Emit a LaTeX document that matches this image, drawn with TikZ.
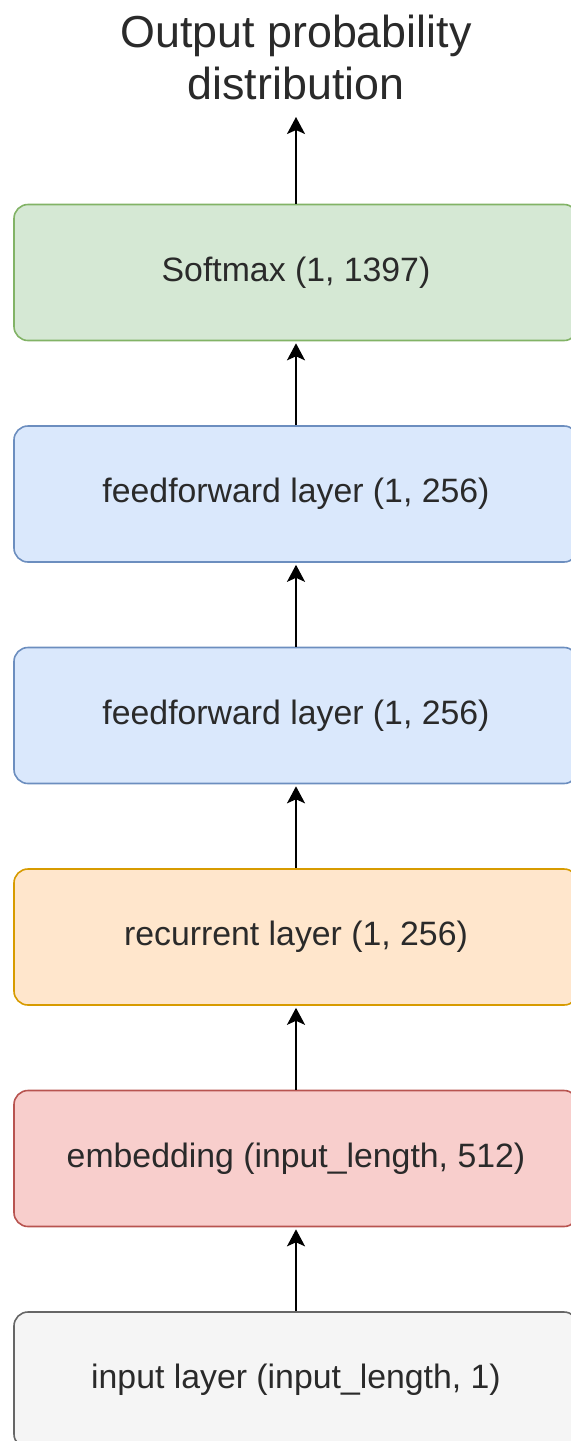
\documentclass[tikz,border=0pt]{standalone}
\usepackage{fontspec}
\setmainfont{Liberation Sans}
\usetikzlibrary{arrows.meta}

\definecolor{smfill}{HTML}{D5E8D4}\definecolor{smdraw}{HTML}{82B366}
\definecolor{fffill}{HTML}{DAE8FC}\definecolor{ffdraw}{HTML}{6C8EBF}
\definecolor{rcfill}{HTML}{FFE6CC}\definecolor{rcdraw}{HTML}{D79B00}
\definecolor{emfill}{HTML}{F8CECC}\definecolor{emdraw}{HTML}{B85450}
\definecolor{infill}{HTML}{F5F5F5}\definecolor{indraw}{HTML}{666666}
\definecolor{labeltext}{HTML}{2A2A2A}

\begin{document}
\begin{tikzpicture}[x=0.5pt, y=-0.5pt]
    \tikzset{layer/.style = {draw, rounded corners = 7pt, line width = 0.8pt,
        minimum width = 282pt, minimum height = 68pt, inner sep = 0pt,
        text = labeltext, font = \fontsize{16.9}{20}\selectfont},
      flow/.style = {-{Stealth[length=8.5pt, width=9pt, inset=2pt]}, line width = 1pt, shorten > = 1pt}}
    \useasboundingbox (0,0) rectangle (571,1441);
    \node[align = center, text = labeltext, font = \fontsize{22.4}{26}\selectfont] (out) at (296,57) {Output probability\\distribution};
    \coordinate (top) at (296,117);
    \node[layer, fill = smfill, draw = smdraw] (sm) at (296,272.5) {Softmax (1, 1397)};
    \node[layer, fill = fffill, draw = ffdraw] (ff2) at (296,494) {feedforward layer (1, 256)};
    \node[layer, fill = fffill, draw = ffdraw] (ff1) at (296,715.5) {feedforward layer (1, 256)};
    \node[layer, fill = rcfill, draw = rcdraw] (rc) at (296,937) {recurrent layer (1, 256)};
    \node[layer, fill = emfill, draw = emdraw] (em) at (296,1158.5) {embedding (input\_length, 512)};
    \node[layer, fill = infill, draw = indraw] (in) at (296,1380) {input layer (input\_length, 1)};
    \draw[flow, shorten > = 0pt] (sm) -- (top);
    \draw[flow] (ff2) -- (sm);
    \draw[flow] (ff1) -- (ff2);
    \draw[flow] (rc) -- (ff1);
    \draw[flow] (em) -- (rc);
    \draw[flow] (in) -- (em);
\end{tikzpicture}
\end{document}
